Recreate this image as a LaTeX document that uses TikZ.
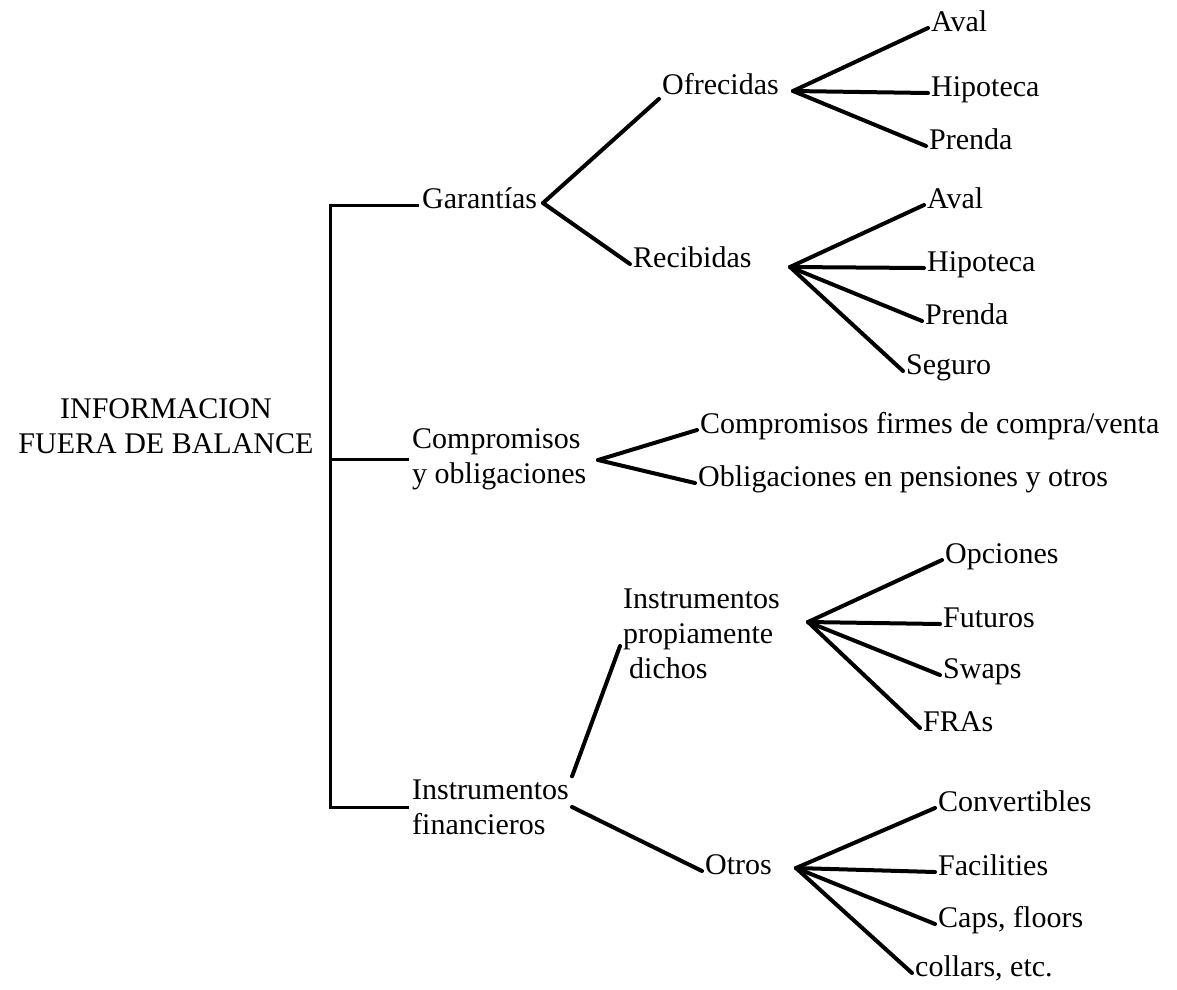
\documentclass[tikz,border=0pt]{standalone}
\usepackage{fontspec}
\setmainfont{Liberation Serif}

\begin{document}
\begin{tikzpicture}[x=1pt,y=-1pt,
  every node/.style={font=\fontsize{30}{35}\selectfont,inner sep=3pt},
  item/.style={anchor=west,text height=0.8em,text depth=0.13em},
  group/.style={anchor=west,align=left},
  branch/.style={line width=4pt,line cap=round},
  trunk/.style={line width=3pt}]
\useasboundingbox (0,0) rectangle (1177,989);

\node[align=center] (root) at (166,426) {INFORMACION\\FUERA DE BALANCE};

% first level
\node[item] (gar) at (419,205) {Garantías};
\node[group] (comp) at (409,459) {Compromisos\\y obligaciones};
\node[group] (fin) at (409,807) {Instrumentos\\financieros};
\coordinate (trunk) at (330,0);
\draw[trunk] (gar.west) -- (gar.west -| trunk) |- (fin.west);
\draw[trunk] (comp.west) -- (comp.west -| trunk);

% garantias
\node[item] (ofr) at (659,91) {Ofrecidas};
\node[item] (rec) at (630,264) {Recibidas};
\node[item] (aval-o) at (928,28) {Aval};
\node[item] (hip-o) at (928,93) {Hipoteca};
\node[item] (pren-o) at (926,146) {Prenda};
\node[item] (aval-r) at (924,205) {Aval};
\node[item] (hip-r) at (924,268) {Hipoteca};
\node[item] (pren-r) at (922,321) {Prenda};
\node[item] (seg-r) at (903,371) {Seguro};
\coordinate (gar-v) at (543,203);
\coordinate (ofr-v) at (793,91);
\coordinate (rec-v) at (790,267);
\path[branch] (gar-v) edge (ofr.south west) edge (rec.west);
\path[branch] (ofr-v) edge (aval-o.west) edge (hip-o.west) edge (pren-o.west);
\path[branch] (rec-v) edge (aval-r.west) edge (hip-r.west) edge (pren-r.west) edge (seg-r.west);

% compromisos
\node[item] (cf) at (697,430) {Compromisos firmes de compra/venta};
\node[item] (ob) at (695,483) {Obligaciones en pensiones y otros};
\coordinate (comp-v) at (598,460);
\path[branch] (comp-v) edge (cf.west) edge (ob.west);

% instrumentos
\node[group] (ipd) at (620,634) {Instrumentos\\propiamente\\\hspace*{6pt}dichos};
\node[item] (otr) at (702,871) {Otros};
\node[item] (opc) at (942,560) {Opciones};
\node[item] (fut) at (940,624) {Futuros};
\node[item] (swa) at (940,675) {Swaps};
\node[item] (fra) at (920,728) {FRAs};
\node[item] (conv) at (935,808) {Convertibles};
\node[item] (fac) at (935,872) {Facilities};
\node[item] (caps) at (935,924) {Caps, floors};
\node[item] (col) at (912,973) {collars, etc.};
\coordinate (ipd-v) at (808,622);
\coordinate (otr-v) at (796,868);
\path[branch] (fin.north east) edge ([yshift=-12pt]ipd.west);
\path[branch] (fin.east) edge (otr.west);
\path[branch] (ipd-v) edge (opc.west) edge (fut.west) edge (swa.west) edge (fra.west);
\path[branch] (otr-v) edge (conv.west) edge (fac.west) edge (caps.west) edge (col.west);
\end{tikzpicture}
\end{document}
